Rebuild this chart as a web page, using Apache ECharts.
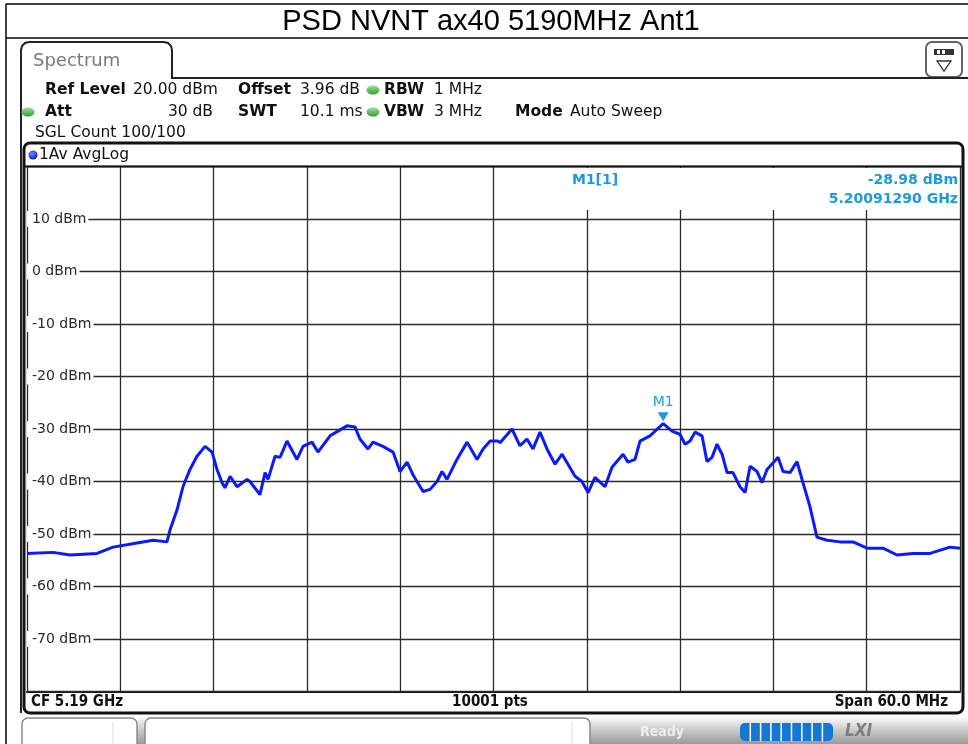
<!DOCTYPE html>
<html lang="en">

<head>
    <meta charset="UTF-8">
    <title>PSD NVNT ax40 5190MHz Ant1</title>
    <script src="https://cdn.jsdelivr.net/npm/echarts@6/dist/echarts.min.js"></script>
    <style>
        * {
            margin: 0;
            padding: 0;
        }

        body {
            background: #fff;
        }

        #main {
            width: 968px;
            height: 744px;
        }
    </style>
</head>

<body>
    <div id="main"></div>
    <script>
        // trace (MHz, dBm)
        let freqMHz = [
            5160.00, 5161.67, 5162.77, 5164.50, 5165.53, 5167.07, 5168.10, 5169.00, 5169.20, 5169.65,
            5170.03, 5170.48, 5170.93, 5171.45, 5171.90, 5172.22, 5172.54, 5172.73, 5173.06, 5173.51,
            5174.15, 5174.34, 5174.98, 5175.31, 5175.50, 5175.95, 5176.27, 5176.72, 5177.36, 5177.75,
            5178.33, 5178.71, 5179.49, 5180.00, 5180.58, 5181.09, 5181.41, 5181.93, 5182.25, 5182.89,
            5183.54, 5183.99, 5184.44, 5184.82, 5185.47, 5185.92, 5186.37, 5186.69, 5187.01, 5187.65,
            5188.30, 5188.94, 5189.33, 5189.78, 5190.29, 5190.42, 5191.19, 5191.70, 5192.15, 5192.54,
            5192.99, 5193.44, 5193.96, 5194.41, 5194.79, 5195.24, 5195.69, 5196.08, 5196.53, 5197.17,
            5197.62, 5198.33, 5198.65, 5199.10, 5199.42, 5200.06, 5200.91, 5201.48, 5201.99, 5202.32,
            5202.64, 5202.96, 5203.41, 5203.73, 5204.05, 5204.37, 5204.70, 5205.02, 5205.40, 5205.85,
            5206.18, 5206.50, 5206.95, 5207.27, 5207.59, 5208.30, 5208.62, 5209.07, 5209.52, 5209.90,
            5210.35, 5210.80, 5211.45, 5212.28, 5213.12, 5214.02, 5215.05, 5215.95, 5216.98, 5218.07,
            5219.36, 5220.00
        ];
        let levelDbm = [
            -53.7, -53.5, -54.0, -53.7, -52.5, -51.7, -51.2, -51.5, -49.2, -45.4,
            -41.0, -37.7, -35.2, -33.3, -34.4, -37.7, -40.2, -41.2, -39.0, -41.0,
            -39.6, -40.0, -42.5, -38.3, -39.6, -35.2, -35.4, -32.3, -35.8, -33.3,
            -32.5, -34.4, -31.3, -30.4, -29.4, -29.6, -31.9, -33.8, -32.5, -33.3,
            -34.4, -38.1, -36.3, -38.7, -41.9, -41.5, -40.0, -38.1, -39.6, -35.8,
            -32.5, -35.8, -33.8, -32.3, -32.3, -32.6, -30.0, -33.2, -31.9, -33.8,
            -30.6, -33.8, -36.7, -34.8, -36.7, -39.0, -40.0, -42.1, -39.2, -41.0,
            -37.3, -34.8, -36.3, -35.8, -32.3, -31.3, -28.98, -30.4, -31.0, -32.9,
            -32.3, -30.6, -31.3, -36.2, -35.4, -32.9, -34.8, -38.3, -38.3, -41.0,
            -42.1, -37.1, -38.1, -40.2, -37.7, -35.4, -38.1, -38.3, -36.2, -40.2,
            -44.8, -50.6, -51.2, -51.5, -51.5, -52.7, -52.7, -54.0, -53.7, -53.7,
            -52.5, -52.7
        ];
        let markerFreq = 5200.9129;   // MHz
        let markerLevel = -28.98;     // dBm
        let yTicks = [-80, -70, -60, -50, -40, -30, -20, -10, 0, 10, 20];

        let traceData = freqMHz.map((f, i) => [f, levelDbm[i]]);

        let blue = '#1a9ae0';
        let hdrFont = '"DejaVu Sans", sans-serif';

        function hdr(x, y, text, bold, align) {
            return {
                type: 'text', x: x, y: y, z: 10,
                style: {
                    text: text, fill: '#111', font: (bold ? 'bold ' : '') + '15.5px ' + hdrFont,
                    align: align || 'left', verticalAlign: 'middle'
                }
            };
        }
        function greenDot(x, y) {
            return {
                type: 'ellipse', z: 10, shape: { cx: x, cy: y, rx: 6.5, ry: 4.5 },
                style: {
                    fill: new echarts.graphic.LinearGradient(0, 0, 0, 1, [
                        { offset: 0, color: '#9ee09a' }, { offset: 1, color: '#3a9a3a' }
                    ])
                }
            };
        }

        let graphics = [
            // title box
            { type: 'line', shape: { x1: 6, y1: 4, x2: 968, y2: 4 }, style: { stroke: '#000', lineWidth: 1.5 } },
            { type: 'line', shape: { x1: 6, y1: 38, x2: 968, y2: 38 }, style: { stroke: '#000', lineWidth: 1.5 } },
            { type: 'line', shape: { x1: 6, y1: 4, x2: 6, y2: 744 }, style: { stroke: '#000', lineWidth: 1.5 } },
            {
                type: 'text', x: 491, y: 22,
                style: { text: 'PSD NVNT ax40 5190MHz Ant1', fill: '#000', font: '29px "Liberation Sans", Arial', align: 'center', verticalAlign: 'middle' }
            },
            // tab
            {
                type: 'polyline', z: 1,
                shape: { points: [[21, 713], [21, 50], [22, 46], [25, 43], [29, 42], [164, 42], [168, 43], [171, 46], [172, 50], [172, 78], [968, 78]] },
                style: { stroke: '#222', lineWidth: 2, fill: null }
            },
            {
                type: 'text', x: 33, y: 61,
                style: { text: 'Spectrum', fill: '#7a7a7a', font: '18px ' + hdrFont, verticalAlign: 'middle' }
            },
            // icon
            {
                type: 'rect', shape: { x: 926, y: 42, width: 36, height: 35, r: 6 },
                style: { stroke: '#666', lineWidth: 2, fill: '#fff' }
            },
            { type: 'rect', shape: { x: 934, y: 49, width: 20, height: 6 }, style: { fill: '#333' } },
            { type: 'rect', shape: { x: 937, y: 50, width: 3, height: 4 }, style: { fill: '#fff' } },
            { type: 'rect', shape: { x: 942, y: 50, width: 3, height: 4 }, style: { fill: '#fff' } },
            { type: 'polygon', shape: { points: [[937, 61], [951, 61], [944, 71]] }, style: { stroke: '#333', lineWidth: 1.3, fill: '#fff' } },
            // header rows
            hdr(45, 90, 'Ref Level', true), hdr(133, 90, '20.00 dBm'),
            hdr(238, 90, 'Offset', true), hdr(300, 90, '3.96 dB'),
            greenDot(373, 90), hdr(384, 90, 'RBW', true), hdr(434, 90, '1 MHz'),
            greenDot(28, 112), hdr(45, 112, 'Att', true), hdr(213, 112, '30 dB', false, 'right'),
            hdr(238, 112, 'SWT', true), hdr(300, 112, '10.1 ms'),
            greenDot(373, 112), hdr(384, 112, 'VBW', true), hdr(434, 112, '3 MHz'),
            hdr(515, 112, 'Mode', true), hdr(570, 112, 'Auto Sweep'),
            hdr(35, 133, 'SGL Count 100/100'),
            // plot frame
            {
                type: 'rect', z: 20, shape: { x: 24, y: 143, width: 939, height: 570, r: 6 },
                style: { stroke: '#111', lineWidth: 3, fill: null }
            },
            { type: 'line', z: 20, shape: { x1: 24, y1: 166.5, x2: 963, y2: 166.5 }, style: { stroke: '#111', lineWidth: 2 } },
            {
                type: 'circle', z: 10, shape: { cx: 33, cy: 155, r: 4.5 },
                style: {
                    fill: new echarts.graphic.RadialGradient(0.4, 0.35, 0.7, [
                        { offset: 0, color: '#6f8cff' }, { offset: 1, color: '#0018c8' }
                    ])
                }
            },
            hdr(39, 155, '1Av AvgLog'),
            // marker info box
            { type: 'rect', z: 5, shape: { x: 495, y: 168, width: 464, height: 42 }, style: { fill: '#fff' } },
            {
                type: 'text', z: 6, x: 595, y: 180,
                style: { text: 'M1[1]', fill: blue, font: 'bold 14px ' + hdrFont, align: 'center', verticalAlign: 'middle' }
            },
            {
                type: 'text', z: 6, x: 958, y: 180,
                style: { text: markerLevel.toFixed(2) + ' dBm', fill: blue, font: 'bold 14px ' + hdrFont, align: 'right', verticalAlign: 'middle' }
            },
            {
                type: 'text', z: 6, x: 958, y: 199,
                style: { text: (markerFreq / 1000).toFixed(8) + ' GHz', fill: blue, font: 'bold 14px ' + hdrFont, align: 'right', verticalAlign: 'middle' }
            },
            // bottom info bar
            {
                type: 'text', z: 10, x: 31, y: 702,
                style: { text: 'CF 5.19 GHz', fill: '#111', font: 'bold 15px "DejaVu Sans Condensed", "DejaVu Sans"', verticalAlign: 'middle' }
            },
            {
                type: 'text', z: 10, x: 490, y: 702,
                style: { text: '10001 pts', fill: '#111', font: 'bold 15px "DejaVu Sans Condensed", "DejaVu Sans"', align: 'center', verticalAlign: 'middle' }
            },
            {
                type: 'text', z: 10, x: 948, y: 702,
                style: { text: 'Span 60.0 MHz', fill: '#111', font: 'bold 15px "DejaVu Sans Condensed", "DejaVu Sans"', align: 'right', verticalAlign: 'middle' }
            },
            // status strip
            {
                type: 'rect', shape: { x: 137, y: 716, width: 831, height: 28 },
                style: {
                    fill: new echarts.graphic.LinearGradient(0, 0, 0, 1, [
                        { offset: 0, color: '#ffffff' }, { offset: 0.45, color: '#cfcfcf' }, { offset: 1, color: '#9a9a9a' }
                    ])
                }
            },
            { type: 'rect', shape: { x: 22, y: 718, width: 115, height: 34, r: 6 }, style: { stroke: '#8a8a8a', lineWidth: 1.5, fill: '#fff' } },
            { type: 'line', shape: { x1: 113, y1: 722, x2: 113, y2: 744 }, style: { stroke: '#ddd', lineWidth: 1 } },
            { type: 'rect', shape: { x: 145, y: 718, width: 445, height: 34, r: 6 }, style: { stroke: '#8a8a8a', lineWidth: 1.5, fill: '#fff' } },
            { type: 'line', shape: { x1: 572, y1: 722, x2: 572, y2: 744 }, style: { stroke: '#ddd', lineWidth: 1 } },
            {
                type: 'text', x: 640, y: 732,
                style: { text: 'Ready', fill: '#eeeeee', font: 'bold 14px "DejaVu Sans Condensed"', verticalAlign: 'middle' }
            },
            { type: 'rect', shape: { x: 740, y: 723, width: 93, height: 18, r: 5 }, style: { fill: '#1577d4' } },
            {
                type: 'text', x: 845, y: 732,
                style: { text: 'LXI', fill: '#7d7d7d', font: 'italic bold 17px "DejaVu Sans Condensed"', verticalAlign: 'middle' }
            }
        ];
        for (let k = 1; k < 9; k++) {
            graphics.push({ type: 'line', shape: { x1: 740 + k * 10.3, y1: 723, x2: 740 + k * 10.3, y2: 741 }, style: { stroke: '#fff', lineWidth: 1.5 } });
        }

        let myChart = echarts.init(document.getElementById('main'), null, { renderer: 'canvas' });
        let option = {
            animation: false,
            backgroundColor: '#fff',
            grid: { left: 27, right: 8, top: 166.5, bottom: 52.5 },
            xAxis: {
                type: 'value',
                min: 5160,
                max: 5220,
                interval: 6,
                axisLine: { show: true, onZero: false, lineStyle: { color: '#111', width: 2 } },
                axisTick: { show: false },
                axisLabel: { show: false },
                splitLine: { show: true, lineStyle: { color: '#2a2a2a', width: 1.3 } }
            },
            yAxis: {
                type: 'value',
                min: yTicks[0],
                max: yTicks[yTicks.length - 1],
                interval: 10,
                axisLine: { show: false },
                axisTick: { show: false },
                splitLine: { show: true, lineStyle: { color: '#2a2a2a', width: 1.3 } },
                axisLabel: {
                    inside: true,
                    margin: 0,
                    showMinLabel: false,
                    showMaxLabel: false,
                    formatter: v => v + ' dBm',
                    color: '#2a2a2a',
                    fontFamily: 'DejaVu Sans',
                    fontSize: 14,
                    backgroundColor: '#fff',
                    padding: [1, 2, 1, 5]
                },
                z: 3
            },
            graphic: graphics,
            series: [{
                type: 'line',
                data: traceData,
                showSymbol: false,
                lineStyle: { color: '#0a1aff', width: 3 },
                z: 2,
                markPoint: {
                    symbol: 'triangle',
                    symbolRotate: 180,
                    symbolSize: [11, 9],
                    symbolOffset: [0, -7],
                    itemStyle: { color: blue },
                    label: {
                        show: true, position: 'top', distance: 3, formatter: 'M1',
                        color: blue, fontSize: 14, fontFamily: 'DejaVu Sans'
                    },
                    data: [{ coord: [markerFreq, markerLevel] }]
                }
            }]
        };
        myChart.setOption(option, true);
    </script>
</body>

</html>
